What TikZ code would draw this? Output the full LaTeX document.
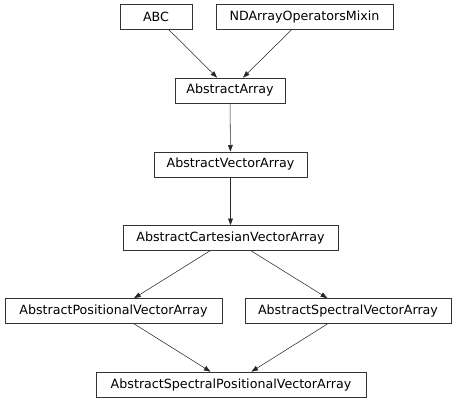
\documentclass[tikz,border=0pt]{standalone}
\usepackage{fontspec}
\setmainfont{DejaVu Sans}
\usetikzlibrary{arrows.meta}
\begin{document}
\begin{tikzpicture}[x=0.75pt,y=-0.75pt,
  cls/.style={draw=black!80, line width=0.5pt, fill=white, inner sep=0pt,
    minimum height=18.75pt, font=\fontsize{9.5pt}{11pt}\selectfont},
  inh/.style={-{Triangle[length=5pt,width=3.6pt]}, line width=0.4pt, draw=black!85}]
\useasboundingbox (0,0) rectangle (456,403);
\node[cls, minimum width=54pt] (abc) at (156,17) {ABC};
\node[cls, minimum width=132.75pt] (nd) at (304.5,17) {NDArrayOperatorsMixin};
\node[cls, minimum width=82.5pt] (aa) at (230,90.5) {AbstractArray};
\node[cls, minimum width=114.75pt] (ava) at (230.5,164.5) {AbstractVectorArray};
\node[cls, minimum width=161.25pt] (acva) at (230.5,238) {AbstractCartesianVectorArray};
\node[cls, minimum width=162.75pt] (apva) at (113.5,311) {AbstractPositionalVectorArray};
\node[cls, minimum width=154.5pt] (asva) at (348,311) {AbstractSpectralVectorArray};
\node[cls, minimum width=202.5pt] (aspva) at (231,384.5) {AbstractSpectralPositionalVectorArray};
\draw[inh] (abc) -- (aa);
\draw[inh] (nd) -- (aa);
\draw[inh] (aa) -- (ava);
\draw[inh] (ava) -- (acva);
\draw[inh] (acva) -- (apva);
\draw[inh] (acva) -- (asva);
\draw[inh] (apva) -- (aspva);
\draw[inh] (asva) -- (aspva);
\end{tikzpicture}
\end{document}
